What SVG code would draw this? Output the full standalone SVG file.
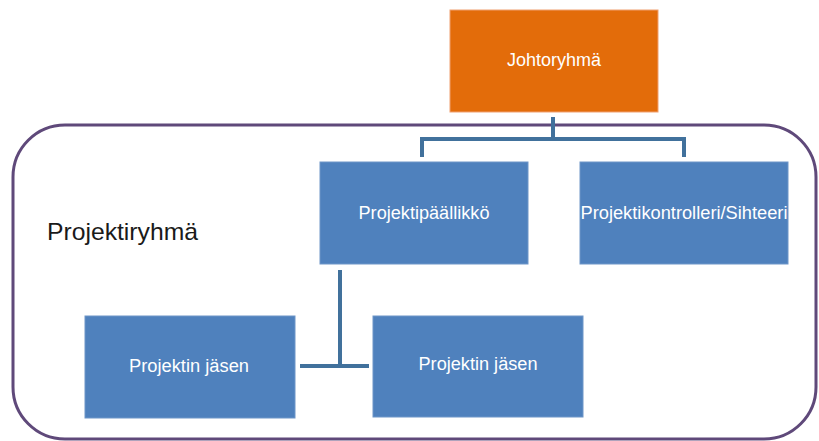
<svg xmlns="http://www.w3.org/2000/svg" width="819" height="441" viewBox="0 0 819 441">
<style>
.box{fill:#4F81BD;stroke:#6E96C8;stroke-width:1}
.lbl{font-family:"Liberation Sans",Arial,sans-serif;font-size:18px;fill:#FFFFFF;text-anchor:middle}
.conn{fill:none;stroke:#41719C;stroke-width:4}
</style>
<rect width="819" height="441" fill="#FFFFFF"/>
<g id="projektiryhma">
<rect x="13" y="125" width="803" height="314" rx="52" ry="52" fill="none" stroke="#5F497A" stroke-width="3"/>
<text x="47" y="240" font-family="Liberation Sans,Arial,sans-serif" font-size="24" fill="#1A1A1A" textLength="151" lengthAdjust="spacingAndGlyphs">Projektiryhmä</text>
</g>
<g id="connectors">
<path class="conn" d="M553 117 V139 M422 157 V139 H684 V157"/>
<path class="conn" d="M340 270 V366 M300 366 H369"/>
</g>
<g id="johtoryhma">
<rect x="450" y="10" width="208" height="102" fill="#E36C0A" stroke="#F0A070" stroke-width="1"/>
<text class="lbl" x="554" y="66" textLength="94" lengthAdjust="spacingAndGlyphs">Johtoryhmä</text>
</g>
<g id="projektipaallikko">
<rect class="box" x="320" y="162" width="208" height="102"/>
<text class="lbl" x="424" y="219" textLength="131" lengthAdjust="spacingAndGlyphs">Projektipäällikkö</text>
</g>
<g id="projektikontrolleri">
<rect class="box" x="580" y="162" width="208" height="102"/>
<text class="lbl" x="684" y="219" textLength="207" lengthAdjust="spacingAndGlyphs">Projektikontrolleri/Sihteeri</text>
</g>
<g id="jasen1">
<rect class="box" x="85" y="316" width="210" height="102"/>
<text class="lbl" x="189" y="372" textLength="120" lengthAdjust="spacingAndGlyphs">Projektin jäsen</text>
</g>
<g id="jasen2">
<rect class="box" x="373" y="316" width="210" height="101"/>
<text class="lbl" x="478" y="370" textLength="119" lengthAdjust="spacingAndGlyphs">Projektin jäsen</text>
</g>
</svg>
